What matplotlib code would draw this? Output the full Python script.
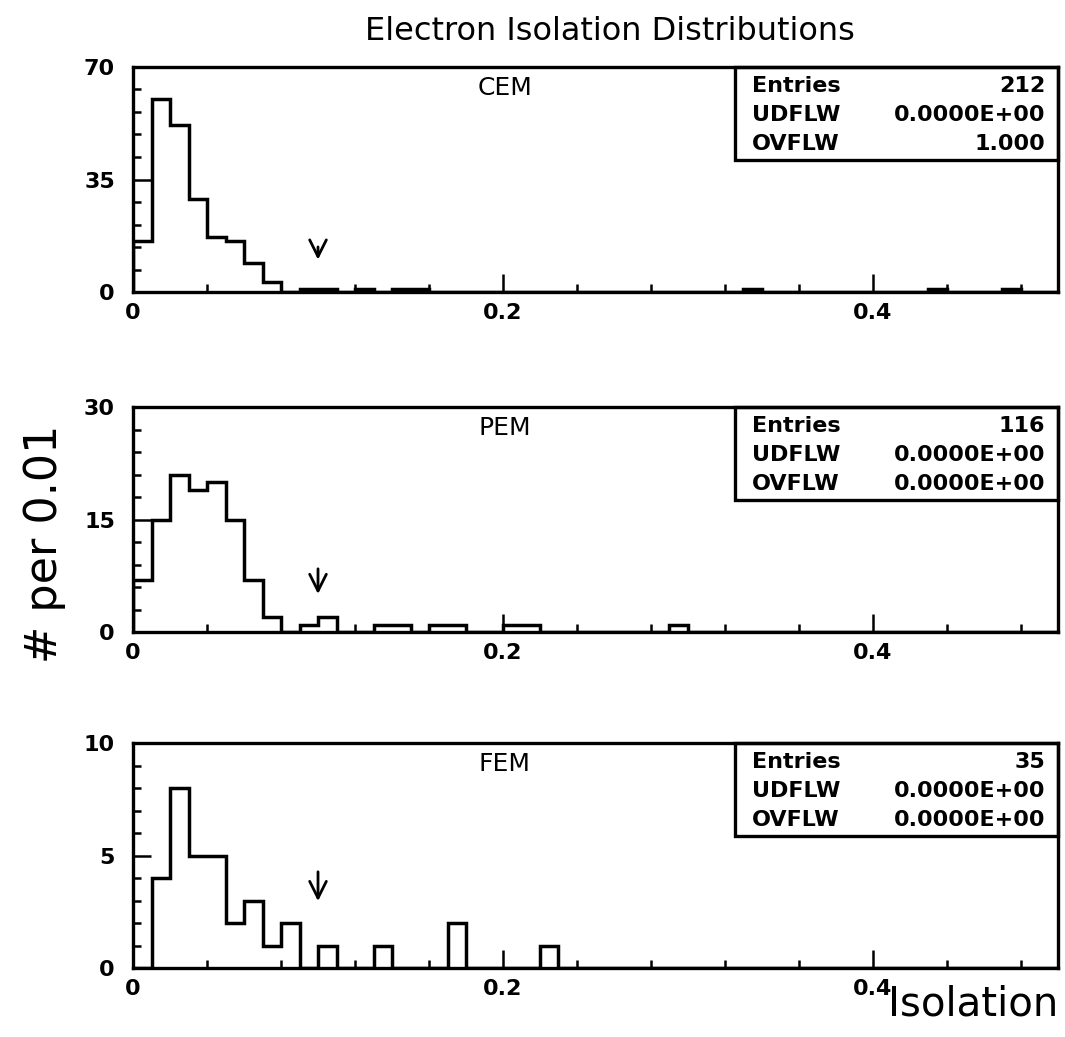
import numpy as np
import matplotlib
matplotlib.use("Agg")
import matplotlib.pyplot as plt
from matplotlib.patches import Rectangle
from matplotlib.ticker import MultipleLocator

# counts per 0.01 bin, isolation 0 -> 0.5 (50 bins)
bin_edges = np.linspace(0.0, 0.5, 51)

cem_counts = [16, 60, 52, 29, 17, 16, 9, 3, 0, 1,
              1, 0, 1, 0, 1, 1, 0, 0, 0, 0,
              0, 0, 0, 0, 0, 0, 0, 0, 0, 0,
              0, 0, 0, 1, 0, 0, 0, 0, 0, 0,
              0, 0, 0, 1, 0, 0, 0, 1, 0, 0]
pem_counts = [7, 15, 21, 19, 20, 15, 7, 2, 0, 1,
              2, 0, 0, 1, 1, 0, 1, 1, 0, 0,
              1, 1, 0, 0, 0, 0, 0, 0, 0, 1,
              0, 0, 0, 0, 0, 0, 0, 0, 0, 0,
              0, 0, 0, 0, 0, 0, 0, 0, 0, 0]
fem_counts = [0, 4, 8, 5, 5, 2, 3, 1, 2, 0,
              1, 0, 0, 1, 0, 0, 0, 2, 0, 0,
              0, 0, 1, 0, 0, 0, 0, 0, 0, 0,
              0, 0, 0, 0, 0, 0, 0, 0, 0, 0,
              0, 0, 0, 0, 0, 0, 0, 0, 0, 0]

names = ["CEM", "PEM", "FEM"]
y_max = [70, 30, 10]
entries = ["212", "116", "35"]
udflw = ["0.0000E+00", "0.0000E+00", "0.0000E+00"]
ovflw = ["1.000", "0.0000E+00", "0.0000E+00"]
cut_value = 0.1
arrow_span = [(14.9, 9.2), (8.8, 4.7), (4.4, 2.85)]

plt.rcParams["font.family"] = "DejaVu Sans"

fig = plt.figure(figsize=(10.65, 10.37), dpi=100)
fig.patch.set_facecolor("white")

left, width = 0.1249, 0.8685
bottoms = [0.7184, 0.3905, 0.0665]
height = 0.217

all_counts = [cem_counts, pem_counts, fem_counts]
for i, counts in enumerate(all_counts):
    ax = fig.add_axes([left, bottoms[i], width, height])
    ax.stairs(counts, bin_edges, color="black", lw=2.5, baseline=0)
    ax.set_xlim(0, 0.5)
    ax.set_ylim(0, y_max[i])

    for sp in ax.spines.values():
        sp.set_linewidth(2.4)

    ax.xaxis.set_major_locator(MultipleLocator(0.2))
    ax.xaxis.set_minor_locator(MultipleLocator(0.04))
    ax.yaxis.set_major_locator(MultipleLocator(y_max[i] / 2))
    ax.yaxis.set_minor_locator(MultipleLocator(y_max[i] / 10))
    ax.tick_params(which="major", direction="in", length=13, width=1.8,
                   labelsize=16, pad=8)
    ax.tick_params(which="minor", direction="in", length=6, width=1.8)
    ax.tick_params(axis="y", which="major", pad=13)
    ax.set_xticks([0, 0.2, 0.4])
    ax.set_xticklabels(["0", "0.2", "0.4"], fontweight="bold")
    ax.set_yticks([0, y_max[i] / 2, y_max[i]])
    ax.set_yticklabels([str(int(v)) for v in (0, y_max[i] / 2, y_max[i])],
                       fontweight="bold")

    ax.text(0.402, 0.905, names[i], transform=ax.transAxes, fontsize=18,
            ha="center", va="center")

    # statistics box in the upper right corner
    ax.add_patch(Rectangle((0.651, 0.585), 0.349, 0.415,
                           transform=ax.transAxes, fill=False,
                           lw=2.4, ec="black", clip_on=False))
    rows = [("Entries", entries[i]), ("UDFLW", udflw[i]), ("OVFLW", ovflw[i])]
    for (lab, val), yy in zip(rows, [0.915, 0.785, 0.66]):
        ax.text(0.669, yy, lab, transform=ax.transAxes, fontsize=16,
                fontweight="bold", ha="left", va="center")
        ax.text(0.986, yy, val, transform=ax.transAxes, fontsize=16,
                fontweight="bold", ha="right", va="center")

    top, tip = arrow_span[i]
    ax.annotate("", xy=(cut_value, tip), xytext=(cut_value, top),
                arrowprops=dict(arrowstyle="->", lw=2.0, color="black",
                                mutation_scale=30))

fig.text(0.573, 0.970, "Electron Isolation Distributions", fontsize=23,
         ha="center", va="center")
fig.text(0.042, 0.476, "# per 0.01", fontsize=32, rotation=90,
         ha="center", va="center")
fig.text(0.9934, 0.031, "Isolation", fontsize=29, ha="right", va="center")

fig.savefig("out.png", dpi=100, facecolor="white")
